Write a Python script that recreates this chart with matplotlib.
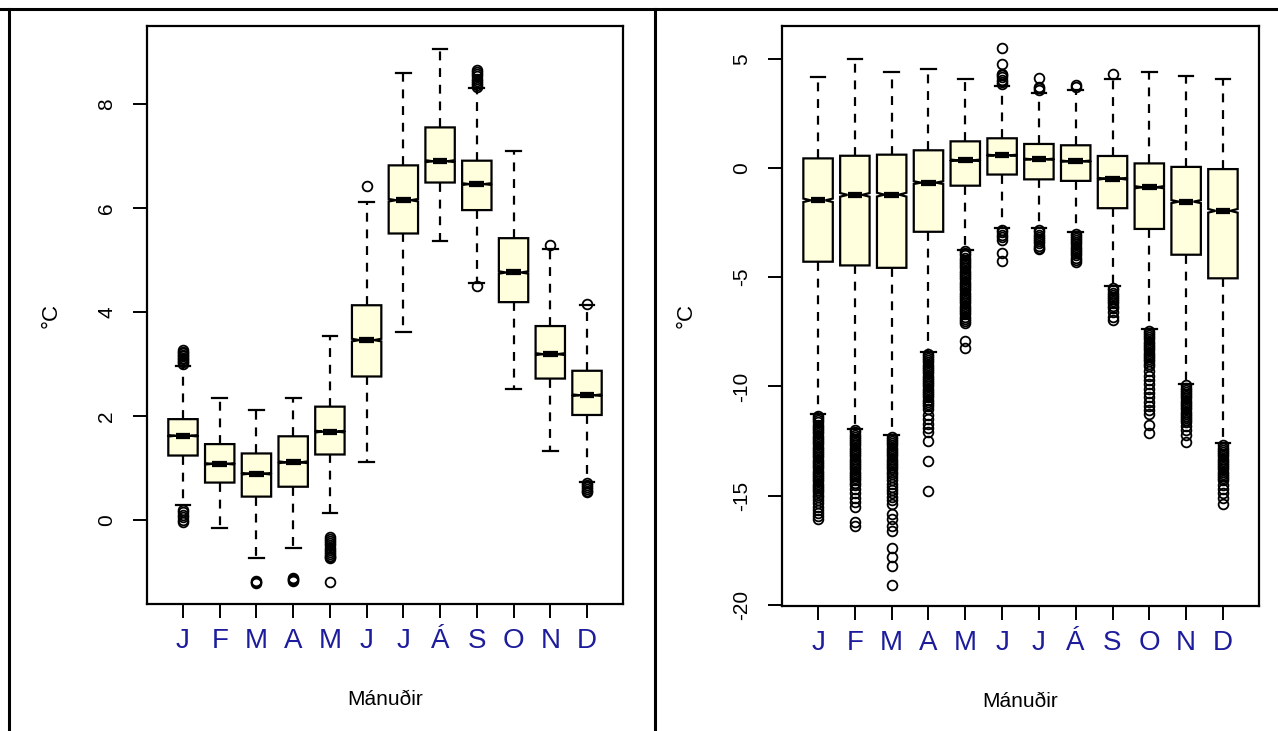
import matplotlib
matplotlib.use('Agg')
import matplotlib.pyplot as plt
from matplotlib.lines import Line2D
import numpy as np

plt.rcParams['font.family'] = ['Liberation Sans', 'DejaVu Sans']

# %% Donnees
mois = ['J', 'F', 'M', 'A', 'M', 'J', 'J', 'Á', 'S', 'O', 'N', 'D']

# panneau gauche
g_med = [1.62, 1.08, 0.89, 1.11, 1.70, 3.46, 6.15, 6.90, 6.46, 4.76, 3.19, 2.40]
g_q1 = [1.24, 0.72, 0.45, 0.64, 1.26, 2.76, 5.51, 6.49, 5.96, 4.19, 2.72, 2.02]
g_q3 = [1.94, 1.46, 1.28, 1.61, 2.18, 4.13, 6.82, 7.55, 6.91, 5.42, 3.73, 2.87]
g_wlo = [0.28, -0.15, -0.74, -0.53, 0.14, 1.12, 3.61, 5.37, 4.55, 2.52, 1.33, 0.74]
g_whi = [2.96, 2.35, 2.11, 2.34, 3.53, 6.12, 8.59, 9.05, 8.30, 7.10, 5.21, 4.13]
g_fliers = [
    [3.00, 3.03, 3.06, 3.09, 3.12, 3.15, 3.18, 3.21, 3.24, 3.27,
     0.20, 0.15, 0.10, 0.05, 0.00, -0.04],
    [],
    [-1.17, -1.20, -1.22],
    [-1.12, -1.14, -1.16, -1.18],
    [-0.33, -0.37, -0.41, -0.45, -0.49, -0.53, -0.57, -0.61, -0.65, -0.69,
     -0.72, -0.74, -1.20],
    [6.42],
    [],
    [],
    [8.33, 8.37, 8.41, 8.45, 8.49, 8.53, 8.57, 8.61, 8.65, 4.50],
    [],
    [5.28],
    [4.16, 0.72, 0.68, 0.64, 0.60, 0.56, 0.53],
]

# panneau droit
d_med = [-1.48, -1.23, -1.22, -0.67, 0.35, 0.58, 0.40, 0.31, -0.49, -0.88, -1.54, -1.96]
d_q1 = [-4.29, -4.46, -4.57, -2.92, -0.81, -0.30, -0.52, -0.59, -1.84, -2.79, -3.97, -5.05]
d_q3 = [0.44, 0.56, 0.61, 0.81, 1.22, 1.36, 1.10, 1.04, 0.55, 0.21, 0.05, -0.05]
d_wlo = [-11.28, -11.93, -12.24, -8.42, -3.74, -2.75, -2.75, -2.91, -5.42, -7.35, -9.88, -12.60]
d_whi = [4.17, 5.01, 4.40, 4.51, 4.06, 3.75, 3.44, 3.56, 4.08, 4.40, 4.20, 4.08]
d_fliers = [
    [-11.35, -11.45, -11.55, -11.65, -11.75, -11.85, -11.95, -12.05, -12.15, -12.25,
     -12.35, -12.45, -12.55, -12.65, -12.75, -12.85, -12.95, -13.05, -13.15, -13.25,
     -13.35, -13.45, -13.55, -13.65, -13.75, -13.85, -13.95, -14.05, -14.15, -14.25,
     -14.35, -14.45, -14.55, -14.65, -14.75, -14.85, -14.95, -15.05, -15.20, -15.35,
     -15.50, -15.65, -15.80, -15.95, -16.07],
    [-12.00, -12.10, -12.20, -12.30, -12.40, -12.50, -12.60, -12.70, -12.80, -12.90,
     -13.00, -13.10, -13.20, -13.30, -13.40, -13.50, -13.60, -13.70, -13.80, -13.90,
     -14.00, -14.10, -14.20, -14.30, -14.40, -14.50, -14.70, -14.90, -15.10, -15.30,
     -15.50, -16.20, -16.40],
    [-12.30, -12.40, -12.50, -12.60, -12.70, -12.80, -12.90, -13.00, -13.10, -13.20,
     -13.30, -13.40, -13.50, -13.60, -13.70, -13.80, -13.90, -14.00, -14.15, -14.30,
     -14.45, -14.60, -14.75, -14.90, -15.05, -15.20, -15.40, -15.84, -16.07, -16.40,
     -16.60, -17.40, -17.80, -18.20, -19.07],
    [-8.50, -8.60, -8.70, -8.80, -8.90, -9.00, -9.10, -9.20, -9.30, -9.40,
     -9.50, -9.60, -9.70, -9.80, -9.90, -10.00, -10.10, -10.20, -10.30, -10.40,
     -10.50, -10.60, -10.70, -10.80, -10.90, -11.05, -11.30, -11.50, -11.70, -11.90,
     -12.10, -12.50, -13.40, -14.80],
    [-3.80, -3.90, -4.00, -4.10, -4.20, -4.30, -4.40, -4.50, -4.60, -4.70,
     -4.80, -4.90, -5.00, -5.10, -5.20, -5.30, -5.40, -5.50, -5.60, -5.70,
     -5.80, -5.90, -6.00, -6.10, -6.20, -6.30, -6.40, -6.50, -6.60, -6.70,
     -6.80, -6.90, -7.00, -7.09, -7.93, -8.23],
    [3.85, 3.95, 4.05, 4.15, 4.25, 4.32, 4.75, 5.51,
     -2.85, -2.95, -3.05, -3.15, -3.29, -3.90, -4.28],
    [3.55, 3.65, 3.71, 4.14,
     -2.85, -2.95, -3.05, -3.15, -3.25, -3.35, -3.45, -3.55, -3.65, -3.71],
    [3.70, 3.82,
     -3.00, -3.10, -3.20, -3.30, -3.40, -3.50, -3.60, -3.70, -3.80, -3.90,
     -4.00, -4.10, -4.20, -4.32],
    [4.32,
     -5.50, -5.60, -5.70, -5.80, -5.90, -6.00, -6.10, -6.20, -6.30, -6.40,
     -6.60, -6.80, -6.94],
    [-7.45, -7.55, -7.65, -7.75, -7.85, -7.95, -8.05, -8.15, -8.25, -8.35,
     -8.45, -8.55, -8.65, -8.75, -8.85, -8.95, -9.07, -9.30, -9.50, -9.70,
     -9.90, -10.10, -10.30, -10.50, -10.70, -10.90, -11.10, -11.28, -11.78, -12.11],
    [-9.95, -10.05, -10.15, -10.25, -10.35, -10.45, -10.55, -10.65, -10.75, -10.85,
     -10.95, -11.05, -11.15, -11.25, -11.35, -11.45, -11.55, -11.65, -11.80, -12.00,
     -12.20, -12.54],
    [-12.70, -12.80, -12.90, -13.00, -13.10, -13.20, -13.30, -13.40, -13.50, -13.60,
     -13.70, -13.80, -13.90, -14.00, -14.10, -14.20, -14.30, -14.50, -14.70, -14.90,
     -15.10, -15.36],
]

# nombre approximatif de valeurs par mois (pour la largeur des encoches, formule de R)
n_gauche = 8000
n_droite = 9000

couleur_boite = '#FFFFDD'
couleur_mois = '#1c1c9c'


def stats_boites(med, q1, q3, wlo, whi, fliers, n):
    stats = []
    for i in range(len(med)):
        iqr = q3[i] - q1[i]
        ci = 1.58 * iqr / np.sqrt(n)
        stats.append(dict(med=med[i], q1=q1[i], q3=q3[i], whislo=wlo[i], whishi=whi[i],
                          fliers=fliers[i], cilo=med[i] - ci, cihi=med[i] + ci))
    return stats


def trace(ax, stats, yticks, ylim):
    pos = np.arange(1, len(mois) + 1)
    ax.bxp(stats, positions=pos, widths=0.8, shownotches=True, patch_artist=True,
           boxprops=dict(facecolor=couleur_boite, edgecolor='black', linewidth=1.6),
           whiskerprops=dict(color='black', linewidth=1.6, linestyle=(0, (4, 3.5))),
           capprops=dict(color='black', linewidth=1.6),
           medianprops=dict(color='black', linewidth=4.5, solid_capstyle='butt'),
           flierprops=dict(marker='o', markerfacecolor='none', markeredgecolor='black',
                           markersize=7, markeredgewidth=1.3, linestyle='none'))
    ax.set_xlim(0.02, 12.98)
    ax.set_ylim(*ylim)
    ax.set_xticks(pos)
    ax.set_xticklabels(mois, fontsize=20, color=couleur_mois)
    ax.set_yticks(yticks)
    ax.set_yticklabels([str(v) for v in yticks], fontsize=15, rotation=90, va='center')
    ax.tick_params(direction='out', length=10, width=1.4)
    ax.tick_params(axis='x', pad=7)
    ax.tick_params(axis='y', pad=12)
    for sp in ax.spines.values():
        sp.set_linewidth(1.6)
    ax.set_xlabel('Mánuðir', fontsize=15, labelpad=26)
    ax.set_ylabel('°C', fontsize=16, labelpad=26)


# %% Figure
fig = plt.figure(figsize=(12.78, 7.31), dpi=100)

ax1 = fig.add_axes([147 / 1278, 1 - 604 / 731, 476 / 1278, 578 / 731])
trace(ax1, stats_boites(g_med, g_q1, g_q3, g_wlo, g_whi, g_fliers, n_gauche),
      [0, 2, 4, 6, 8], (-1.615, 9.5))

ax2 = fig.add_axes([782 / 1278, 1 - 606 / 731, 477 / 1278, 580 / 731])
trace(ax2, stats_boites(d_med, d_q1, d_q3, d_wlo, d_whi, d_fliers, n_droite),
      [-20, -15, -10, -5, 0, 5], (-20.05, 6.5))

# cadre du tableau
yh = 1 - 8.5 / 731
fig.add_artist(Line2D([0, 1], [yh, yh], color='black', linewidth=2.2, transform=fig.transFigure))
fig.add_artist(Line2D([8.5 / 1278, 8.5 / 1278], [0, yh], color='black', linewidth=2.2,
                      transform=fig.transFigure))
fig.add_artist(Line2D([654.5 / 1278, 654.5 / 1278], [0, yh], color='black', linewidth=2.2,
                      transform=fig.transFigure))

fig.savefig('out.png', dpi=100)
